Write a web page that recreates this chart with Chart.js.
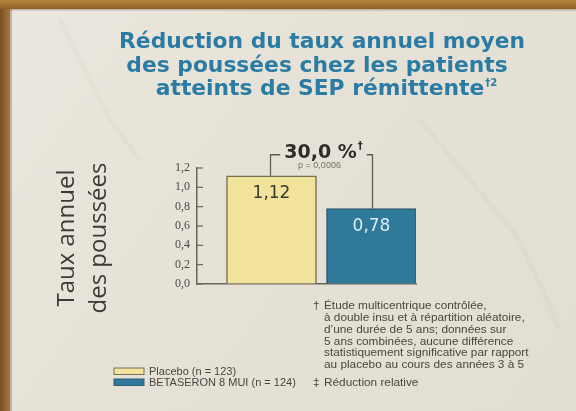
<!DOCTYPE html>
<html>
<head>
<meta charset="utf-8">
<script src="https://cdn.jsdelivr.net/npm/chart.js@4/dist/chart.umd.min.js"></script>
<style>
  html, body { margin: 0; padding: 0; background: #e7e2d7; }
  #wrap { width: 576px; height: 411px; }
</style>
</head>
<body>
<div id="wrap"><canvas id="rates" width="576" height="411"></canvas></div>
<script>
// data
var categories = ['Placebo (n = 123)', 'BETASERON 8 MUI (n = 124)'];
var rates = [1.12, 0.78];
var barColors = ['#f1e39b', '#2f7a9b'];
var barBorders = ['#77715a', '#2b5d72'];
var labelColors = ['#3b3a30', '#dcedf3'];
var reduction = '30,0 %';
var pValue = 'p = 0,0006';

var titleLines = ['Réduction du taux annuel moyen', 'des poussées chez les patients', 'atteints de SEP rémittente'];
var axisTitle = ['Taux annuel', 'des poussées'];
var footnotes = [
  'Étude multicentrique contrôlée,',
  'à double insu et à répartition aléatoire,',
  'd\u2019une durée de 5 ans; données sur',
  '5 ans combinées, aucune différence',
  'statistiquement significative par rapport',
  'au placebo au cours des années 3 à 5'
];
var footnote2 = 'Réduction relative';

function comma(v, d) { return v.toFixed(d).replace('.', ','); }

// background, frame, texts and the bracket
var decor = {
  id: 'decor',
  beforeDraw: function(chart) {
    var ctx = chart.ctx;
    ctx.save();
    var g = ctx.createLinearGradient(0, 0, 576, 411);
    g.addColorStop(0, '#ebe7de');
    g.addColorStop(0.5, '#e6e1d6');
    g.addColorStop(1, '#e3ded2');
    ctx.fillStyle = g;
    ctx.fillRect(0, 0, 576, 411);
    // soft marble veins
    ctx.strokeStyle = 'rgba(150,145,135,0.06)';
    ctx.lineWidth = 5;
    ctx.beginPath();
    ctx.moveTo(60, 20); ctx.lineTo(110, 120); ctx.lineTo(140, 160);
    ctx.moveTo(420, 120); ctx.lineTo(520, 240); ctx.lineTo(560, 330);
    ctx.stroke();
    // wooden frame
    var w = ctx.createLinearGradient(0, 0, 10, 0);
    w.addColorStop(0, '#7a4e22');
    w.addColorStop(1, '#a8773c');
    ctx.fillStyle = w;
    ctx.fillRect(0, 0, 10, 411);
    var t = ctx.createLinearGradient(0, 0, 0, 9);
    t.addColorStop(0, '#b5843f');
    t.addColorStop(1, '#8d6028');
    ctx.fillStyle = t;
    ctx.fillRect(0, 0, 576, 9);
    ctx.fillStyle = 'rgba(60,40,20,0.25)';
    ctx.fillRect(10, 9, 2, 402);
    ctx.fillRect(10, 9, 566, 1.5);

    // title
    ctx.fillStyle = '#2b7ca4';
    ctx.font = 'bold 21.8px "DejaVu Sans"';
    ctx.textAlign = 'center';
    ctx.textBaseline = 'alphabetic';
    ctx.fillText(titleLines[0], 322, 48);
    ctx.fillText(titleLines[1], 317, 72);
    var w3 = ctx.measureText(titleLines[2]).width;
    ctx.fillText(titleLines[2], 320, 95);
    ctx.font = 'bold 10px "DejaVu Sans"';
    ctx.textAlign = 'left';
    ctx.fillText('\u20202', 320 + w3 / 2 + 1, 86);

    // y axis title, rotated
    ctx.fillStyle = '#3d3b36';
    ctx.font = '24px "Open Sans"';
    ctx.textAlign = 'center';
    ctx.translate(74, 238);
    ctx.rotate(-Math.PI / 2);
    ctx.fillText(axisTitle[0], 0, 0);
    ctx.fillText(axisTitle[1], 0, 32);
    ctx.restore();

    // footnotes
    ctx.save();
    ctx.fillStyle = '#4a463f';
    ctx.font = '11.8px "Liberation Sans"';
    ctx.textAlign = 'left';
    ctx.textBaseline = 'middle';
    ctx.fillText('\u2020', 313, 306);
    footnotes.forEach(function(line, i) {
      ctx.fillText(line, 324, 306 + i * 11.8);
    });
    ctx.fillText('\u2021', 313, 383);
    ctx.fillText(footnote2, 324, 383);

    // legend
    ctx.font = '11px "Liberation Sans"';
    categories.forEach(function(c, i) {
      var y = 368 + i * 11;
      ctx.fillStyle = barColors[i];
      ctx.fillRect(114, y, 30, 6.5);
      ctx.strokeStyle = barBorders[i];
      ctx.lineWidth = 1;
      ctx.strokeRect(114, y, 30, 6.5);
      ctx.fillStyle = '#4a463f';
      ctx.fillText(c, 149, y + 3.5);
    });
    ctx.restore();
  },
  afterDraw: function(chart) {
    var ctx = chart.ctx;
    var area = chart.chartArea;
    var yScale = chart.scales.y;
    var bars = chart.getDatasetMeta(0).data;
    ctx.save();
    // little ticks pointing inward
    ctx.strokeStyle = '#6a665c';
    ctx.lineWidth = 1.2;
    yScale.ticks.forEach(function(tk) {
      var py = yScale.getPixelForValue(tk.value);
      ctx.beginPath();
      ctx.moveTo(area.left, py);
      ctx.lineTo(area.left + 6, py);
      ctx.stroke();
    });

    // value labels inside bars
    ctx.font = '17px "DejaVu Sans"';
    ctx.textAlign = 'center';
    ctx.textBaseline = 'middle';
    bars.forEach(function(b, i) {
      ctx.fillStyle = labelColors[i];
      ctx.fillText(comma(rates[i], 2), b.x, b.y + 18);
    });

    // bracket with the relative reduction
    var x1 = bars[0].x - 1, x2 = bars[1].x + 1;
    var top = Math.min(bars[0].y, bars[1].y) - 21;
    var mid = (x1 + x2) / 2 + 2;
    ctx.font = 'bold 19px "DejaVu Sans"';
    var tw = ctx.measureText(reduction).width;
    ctx.font = 'bold 10px "DejaVu Sans"';
    var dw = ctx.measureText('\u2020').width;
    var full = tw + dw + 1;
    var tx = mid - full / 2;
    ctx.strokeStyle = '#5f5c55';
    ctx.lineWidth = 1.3;
    ctx.beginPath();
    ctx.moveTo(x1, bars[0].y);
    ctx.lineTo(x1, top);
    ctx.lineTo(tx - 4, top);
    ctx.moveTo(tx + full + 4, top);
    ctx.lineTo(x2, top);
    ctx.lineTo(x2, bars[1].y);
    ctx.stroke();
    ctx.fillStyle = '#2f2d2a';
    ctx.textAlign = 'left';
    ctx.textBaseline = 'alphabetic';
    ctx.font = 'bold 19px "DejaVu Sans"';
    ctx.fillText(reduction, tx, top + 3);
    ctx.font = 'bold 10px "DejaVu Sans"';
    ctx.fillText('\u2020', tx + tw + 1, top - 6);
    ctx.fillStyle = '#77736b';
    ctx.font = '9px "Liberation Sans"';
    ctx.textAlign = 'center';
    ctx.fillText(pValue, mid - 4, top + 13);
    ctx.restore();
  }
};

var ctx = document.getElementById('rates').getContext('2d');
var chart = new Chart(ctx, {
  type: 'bar',
  data: {
    datasets: [{
      label: 'Taux annuel des poussées',
      data: rates.map(function(v, i) { return { x: i, y: v }; }),
      backgroundColor: barColors,
      borderColor: barBorders,
      borderWidth: 1.5,
      barThickness: 90
    }]
  },
  options: {
    responsive: false,
    animation: false,
    layout: { padding: { left: 150, right: 160, top: 168, bottom: 127 } },
    plugins: {
      legend: { display: false },
      tooltip: { enabled: false }
    },
    scales: {
      x: {
        type: 'linear',
        offset: false,
        min: -0.745,
        max: 1.445,
        ticks: { display: false },
        grid: { drawOnChartArea: false, drawTicks: false, offset: false },
        border: { color: '#6a665c', width: 1.5 },
        afterFit: function(s) { s.height = 0; }
      },
      y: {
        min: 0,
        max: 1.2,
        ticks: {
          stepSize: 0.2,
          padding: 7,
          color: '#4d4a44',
          font: { family: '"Liberation Serif"', size: 12 },
          callback: function(v) { return comma(v, 1); }
        },
        grid: { drawOnChartArea: false, drawTicks: false },
        border: { color: '#6a665c', width: 1.5 },
        afterFit: function(s) { s.width = 47; }
      }
    }
  },
  plugins: [decor]
});
</script>
</body>
</html>
